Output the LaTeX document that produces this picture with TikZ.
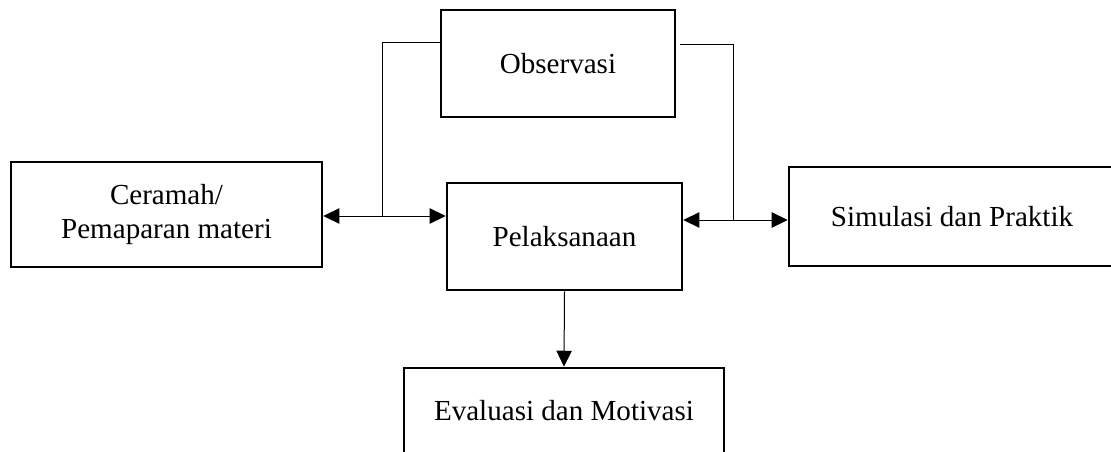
\documentclass[tikz,border=0pt]{standalone}
\usepackage{fontspec}
\setmainfont{Liberation Serif}
\usetikzlibrary{arrows.meta,calc}

\tikzset{every picture/.style={line width=0.75pt}}
\tikzset{
	kotak/.style={draw, line width=1.9pt, align=center, inner sep=0.75pt, font=\fontsize{21.8}{25}\selectfont},
	garis/.style={line width=0.75pt},
	panah/.style={-{Triangle[length=12pt,width=11.5pt]}},
	duapanah/.style={{Triangle[length=12pt,width=11.5pt]}-{Triangle[length=12pt,width=11.5pt]}}
}

\begin{document}
\begin{tikzpicture}[x=0.75pt,y=0.75pt,yscale=-1,xscale=1]
	\useasboundingbox (0,0) rectangle (1111,451);
	\clip (0,0) rectangle (1111,451);
	%Shape: Rectangle [id:obs] 
	\node [kotak, minimum width=175.5pt, minimum height=80.25pt] (obs) at (558,63.5) {Observasi};
	%Shape: Rectangle [id:ceramah] 
	\node [kotak, minimum width=233.25pt, minimum height=78.75pt] (ceramah) at (166.5,214.5) {Ceramah/\\Pemaparan materi};
	%Shape: Rectangle [id:pelak] 
	\node [kotak, minimum width=176.25pt, minimum height=80.25pt] (pelak) at (564.5,236.5) {Pelaksanaan};
	%Shape: Rectangle [id:simul] 
	\node [kotak, minimum width=244.5pt, minimum height=74.25pt] (simul) at (952,216.5) {Simulasi dan Praktik};
	%Shape: Rectangle [id:eval] 
	\node [kotak, minimum width=240pt, minimum height=64.5pt] (eval) at (564,411) {Evaluasi dan Motivasi};
	
	%Straight Lines [id:kiri] 
	\coordinate (jl) at (382,216);
	\draw [garis] ([yshift=-16pt]obs.west) -| (jl);
	\draw [garis, duapanah] (ceramah.east |- jl) -- (pelak.west |- jl);
	%Straight Lines [id:kanan] 
	\coordinate (jr) at (733,220);
	\draw [garis] ([xshift=3pt,yshift=-14.5pt]obs.east) -| (jr);
	\draw [garis, duapanah] (pelak.east |- jr) -- (simul.west |- jr);
	%Straight Lines [id:bawah] 
	\draw [garis, panah] (pelak.south) -- (eval.north);
\end{tikzpicture}
\end{document}
